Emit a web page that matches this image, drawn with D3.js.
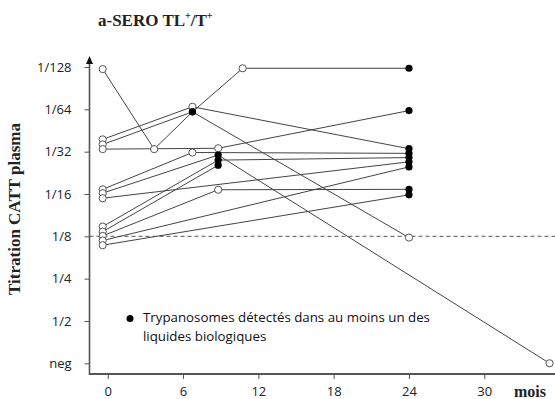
<!DOCTYPE html>
<html><head><meta charset="utf-8">
<script src="https://cdn.jsdelivr.net/npm/d3@7"></script>
<style>body{margin:0;background:#fff}svg{display:block}</style>
</head><body>
<svg id="c" width="555" height="399"></svg>
<script>
// ---- data ----
// titre level: 0 = neg, 1 = 1/2, 2 = 1/4, ..., 7 = 1/128 (small vertical offsets as drawn)
const yTickLabels = ["neg","1/2","1/4","1/8","1/16","1/32","1/64","1/128"];
const xTicks = [0,6,12,18,24,30];
const thresholdLevel = 3; // 1/8 dashed line

const pA_months = [-0.4, 3.7, 6.75, 10.75, 24];
const pA_levels = [6.95, 5.06, 5.94, 6.97, 6.97];
const pA_detect = [0, 0, 1, 0, 1];

const pB_months = [-0.4, 6.75, 24];
const pB_levels = [5.29, 6.06, 5.07];
const pB_detect = [0, 0, 1];

const pC_months = [-0.4, 6.75, 24];
const pC_levels = [5.17, 5.94, 2.97];
const pC_detect = [0, 1, 0];

const pD_months = [-0.4, 8.8, 24];
const pD_levels = [5.06, 5.08, 5.97];
const pD_detect = [0, 0, 1];

const pE_months = [-0.4, 6.75, 24];
const pE_levels = [4.11, 4.98, 4.96];
const pE_detect = [0, 0, 1];

const pF_months = [-0.4, 8.8, 35.2];
const pF_levels = [4.02, 4.92, 0.0];
const pF_detect = [0, 1, 0];

const pG_months = [-0.4, 24];
const pG_levels = [3.90, 4.76];
const pG_detect = [0, 1];

const pH_months = [-0.4, 8.8, 24];
const pH_levels = [3.23, 4.80, 4.86];
const pH_detect = [0, 1, 1];

const pI_months = [-0.4, 8.8];
const pI_levels = [3.11, 4.68];
const pI_detect = [0, 1];

const pJ_months = [-0.4, 8.8, 24];
const pJ_levels = [3.01, 4.10, 4.11];
const pJ_detect = [0, 0, 1];

const pK_months = [-0.4, 24];
const pK_levels = [2.90, 4.64];
const pK_detect = [0, 1];

const pM_months = [-0.4, 24];
const pM_levels = [2.79, 3.98];
const pM_detect = [0, 1];

const titleMain = "a-SERO TL";
const yTitle = "Titration CATT plasma";
const xTitle = "mois";
const legendLines = ["Trypanosomes détectés dans au moins un des", "liquides biologiques"];

// ---- build ----
const patients = [
  [pA_months,pA_levels,pA_detect],[pB_months,pB_levels,pB_detect],[pC_months,pC_levels,pC_detect],
  [pD_months,pD_levels,pD_detect],[pE_months,pE_levels,pE_detect],[pF_months,pF_levels,pF_detect],
  [pG_months,pG_levels,pG_detect],[pH_months,pH_levels,pH_detect],[pI_months,pI_levels,pI_detect],
  [pJ_months,pJ_levels,pJ_detect],[pK_months,pK_levels,pK_detect],[pM_months,pM_levels,pM_detect]
].map(([m,l,d]) => m.map((v,i)=>({m:v, l:l[i], d:d[i]})));

const svg = d3.select("#c");
const x = d3.scaleLinear().domain([0,30]).range([107.7,484.3]);
const y = d3.scaleLinear().domain([0,7]).range([363.3,67]);
const axisX0 = 89.5, axisY0 = 374;
const axisColor = "#555";

// threshold dashed line
svg.append("line")
  .attr("x1", axisX0).attr("x2", 555)
  .attr("y1", y(thresholdLevel)).attr("y2", y(thresholdLevel))
  .attr("stroke", "#555").attr("stroke-width", 1).attr("stroke-dasharray", "4,3");

// y axis
const yAxis = svg.append("g").attr("transform", `translate(${axisX0},0)`)
  .call(d3.axisLeft(y).tickValues(d3.range(8)).tickFormat(i => yTickLabels[i]).tickSizeInner(5).tickSizeOuter(0).tickPadding(13));
yAxis.select(".domain").remove();
yAxis.selectAll(".tick line").attr("stroke", axisColor);
yAxis.selectAll(".tick text").attr("font-family", "'Open Sans', sans-serif").attr("font-size", 13).attr("fill", "#222");

// x axis
const xAxis = svg.append("g").attr("transform", `translate(0,${axisY0})`)
  .call(d3.axisBottom(x).tickValues(xTicks).tickFormat(d3.format("d")).tickSizeInner(5).tickSizeOuter(0).tickPadding(8));
xAxis.select(".domain").remove();
xAxis.selectAll(".tick line").attr("stroke", axisColor);
xAxis.selectAll(".tick text").attr("font-family", "'Open Sans', sans-serif").attr("font-size", 13).attr("fill", "#222");

// axis lines
svg.append("line").attr("x1", axisX0).attr("x2", axisX0).attr("y1", axisY0+1).attr("y2", 62)
  .attr("stroke", axisColor).attr("stroke-width", 1.6);
svg.append("line").attr("x1", axisX0).attr("x2", 555).attr("y1", axisY0).attr("y2", axisY0)
  .attr("stroke", axisColor).attr("stroke-width", 2);
svg.append("path").attr("d", `M${axisX0-3.5},${64} L${axisX0},${56} L${axisX0+3.5},${64} Z`).attr("fill", "#111");

// lines
const line = d3.line().x(d => x(d.m)).y(d => y(d.l));
svg.append("g").selectAll("path").data(patients).join("path")
  .attr("d", line).attr("fill", "none").attr("stroke", "#444").attr("stroke-width", 1);

// markers
const pts = patients.flat();
svg.append("g").selectAll("circle").data(pts.filter(p => !p.d)).join("circle")
  .attr("cx", d => x(d.m)).attr("cy", d => y(d.l)).attr("r", 3.6)
  .attr("fill", "#fff").attr("stroke", "#555").attr("stroke-width", 1);
svg.append("g").selectAll("circle").data(pts.filter(p => p.d)).join("circle")
  .attr("cx", d => x(d.m)).attr("cy", d => y(d.l)).attr("r", 3.6)
  .attr("fill", "#000");

// legend
svg.append("circle").attr("cx", 130).attr("cy", 318.5).attr("r", 3.5).attr("fill", "#000");
svg.append("g").selectAll("text").data(legendLines).join("text")
  .attr("x", 143).attr("y", (d,i) => 322 + i*19)
  .attr("font-family", "'Open Sans', sans-serif").attr("font-size", 13.3).attr("fill", "#111")
  .text(d => d);

// titles
const t = svg.append("text").attr("x", 98).attr("y", 26)
  .attr("font-family", "'Liberation Serif', 'Times New Roman', serif").attr("font-weight", "bold")
  .attr("font-size", 17).attr("fill", "#222");
t.append("tspan").text(titleMain);
t.append("tspan").attr("font-size", 10).attr("dy", -7).text("+");
t.append("tspan").attr("dy", 7).text("/T");
t.append("tspan").attr("font-size", 10).attr("dy", -7).text("+");

svg.append("text").attr("transform", "translate(20,209) rotate(-90)")
  .attr("text-anchor", "middle")
  .attr("font-family", "'Liberation Serif', 'Times New Roman', serif").attr("font-weight", "bold")
  .attr("font-size", 17).attr("fill", "#222").text(yTitle);

svg.append("text").attr("x", 514).attr("y", 397)
  .attr("font-family", "'Liberation Serif', 'Times New Roman', serif").attr("font-weight", "bold")
  .attr("font-size", 16).attr("fill", "#222").text(xTitle);
</script>
</body></html>
